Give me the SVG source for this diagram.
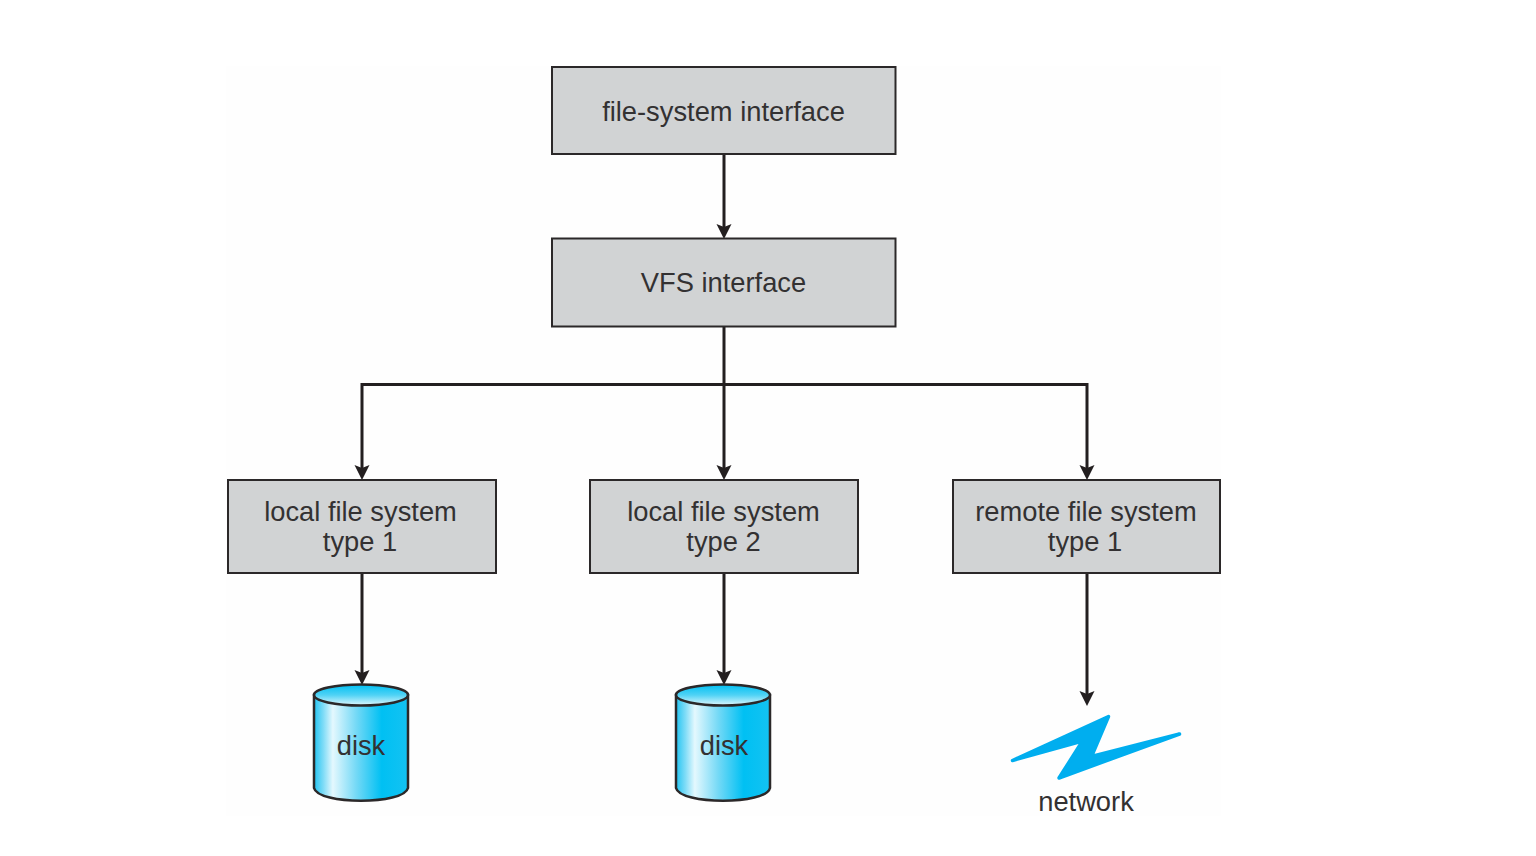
<svg xmlns="http://www.w3.org/2000/svg" width="1536" height="856" viewBox="0 0 1536 856">
<style>
.box{fill:#d1d3d4;stroke:#2b2829;stroke-width:2}
.t{font-family:"Liberation Sans",Arial,sans-serif;font-size:27.300px;fill:#333132;text-anchor:middle}
.c{fill:none;stroke:#231f20;stroke-width:3}
.d{fill:url(#cyl);stroke:#2b2829;stroke-width:2.500}
.top{fill:url(#lid);stroke:#2b2829;stroke-width:2.500}
</style>
<defs>
<linearGradient id="cyl" x1="0" x2="1" y1="0" y2="0"><stop offset="0" stop-color="#22c4f2"/><stop offset=".1" stop-color="#7fdcf7"/><stop offset=".2" stop-color="#e4f8fe"/><stop offset=".45" stop-color="#74d9f6"/><stop offset=".72" stop-color="#00c0f3"/><stop offset="1" stop-color="#14c2f2"/></linearGradient>
<linearGradient id="lid" x1="0" x2="0" y1="0" y2="1"><stop offset="0" stop-color="#00c0f3"/><stop offset=".5" stop-color="#4fd2f5"/><stop offset="1" stop-color="#e0f7fd"/></linearGradient>
<path id="h" d="M-7.500 -14L0 -11L7.500 -14L0 1Z" fill="#231f20"/>
</defs>
<rect x="0" y="0" width="1536" height="856" fill="#fff"/>
<rect x="226" y="66" width="995" height="750" fill="#fefefe"/>
<g id="connectors">
<path class="c" d="M724 154V230"/>
<path class="c" d="M724 327V472"/>
<path class="c" d="M724 384.500H362V472"/>
<path class="c" d="M724 384.500H1087V472"/>
<path class="c" d="M362 573V677"/>
<path class="c" d="M724 573V677"/>
<path class="c" d="M1087 573V698"/>
<use href="#h" x="724" y="238"/>
<use href="#h" x="362" y="479"/>
<use href="#h" x="724" y="479"/>
<use href="#h" x="1087" y="479"/>
<use href="#h" x="362" y="684"/>
<use href="#h" x="724" y="684"/>
<use href="#h" x="1087" y="705"/>
</g>
<g id="fsi"><rect class="box" x="552" y="67" width="343.500" height="87"/><text class="t" x="723.500" y="120.500">file-system interface</text></g>
<g id="vfs"><rect class="box" x="552" y="238.500" width="343.500" height="88"/><text class="t" x="723.500" y="291.500">VFS interface</text></g>
<g id="local1"><rect class="box" x="228" y="480" width="268" height="93"/><text class="t" x="360.500" y="520.500">local file system</text><text class="t" x="360" y="550.500">type 1</text></g>
<g id="local2"><rect class="box" x="590" y="480" width="268" height="93"/><text class="t" x="723.500" y="520.500">local file system</text><text class="t" x="723.500" y="550.500">type 2</text></g>
<g id="remote1"><rect class="box" x="953" y="480" width="267" height="93"/><text class="t" x="1086" y="520.500">remote file system</text><text class="t" x="1085" y="550.500">type 1</text></g>
<g id="disk1"><path class="d" d="M314 695V788C318 805 404 805 408 788V695Z"/><ellipse class="top" cx="361" cy="695" rx="47" ry="10.500"/><text class="t" x="361" y="755">disk</text></g>
<g id="disk2"><path class="d" d="M676 695V788C680 805 766 805 770 788V695Z"/><ellipse class="top" cx="723" cy="695" rx="47" ry="10.500"/><text class="t" x="724" y="755">disk</text></g>
<g id="network"><path d="M1012.500 760.500L1108.500 716.500L1091.500 756.500L1179.500 734L1059 778L1082.500 741Z" fill="#00aeef" stroke="#00aeef" stroke-width="3.500" stroke-linejoin="round"/><text class="t" x="1086" y="811">network</text></g>
</svg>
